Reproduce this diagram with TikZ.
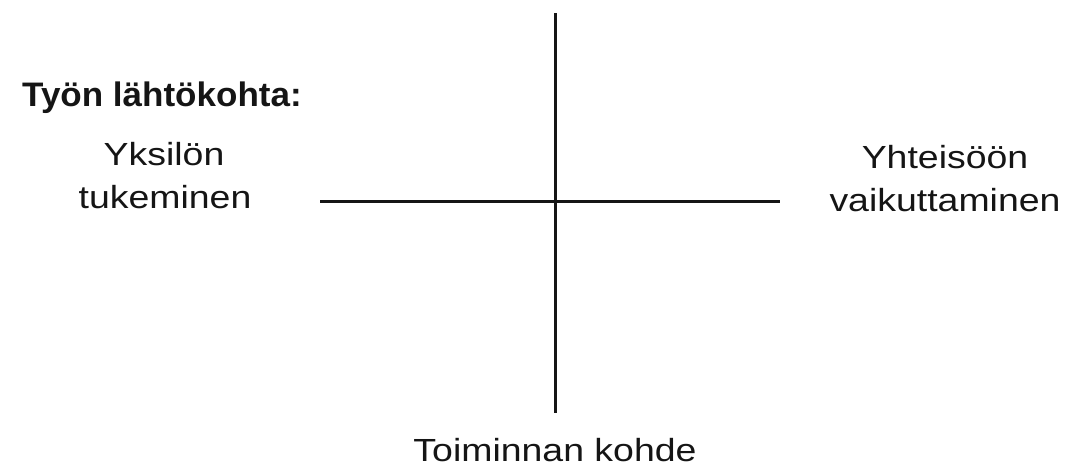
\documentclass[tikz,border=0pt]{standalone}
\usepackage{fontspec}
\setmainfont{Liberation Sans}
\newfontfamily\labfont[FakeStretch=1.17]{Liberation Sans}
\newfontfamily\headfont[FakeStretch=1.03]{Liberation Sans}
\definecolor{ink}{HTML}{151515}
\begin{document}
\begin{tikzpicture}[x=1pt,y=-1pt,
  lab/.style={inner sep=0pt,anchor=base,text=ink,font=\labfont\fontsize{32}{38}\selectfont},
  head/.style={inner sep=0pt,anchor=base west,text=ink,font=\headfont\bfseries\fontsize{34}{40}\selectfont},
  axis/.style={draw=ink,line width=3pt}]
\useasboundingbox (0,0) rectangle (1091,467);
\coordinate (top) at (555,13);
\coordinate (bottom) at (555,413);
\coordinate (left) at (320,201);
\coordinate (right) at (780,201);
\draw[axis] (top) -- (bottom);
\draw[axis] (left) -- (right);
\node[head] (h) at (22,106) {Työn lähtökohta:};
\node[lab] (y1) at (164,165) {Yksilön};
\node[lab] (y2) at (165,208) {tukeminen};
\node[lab] (v1) at (945,168) {Yhteisöön};
\node[lab] (v2) at (945,211) {vaikuttaminen};
\node[lab] (t) at (555,461) {Toiminnan kohde};
\end{tikzpicture}
\end{document}
